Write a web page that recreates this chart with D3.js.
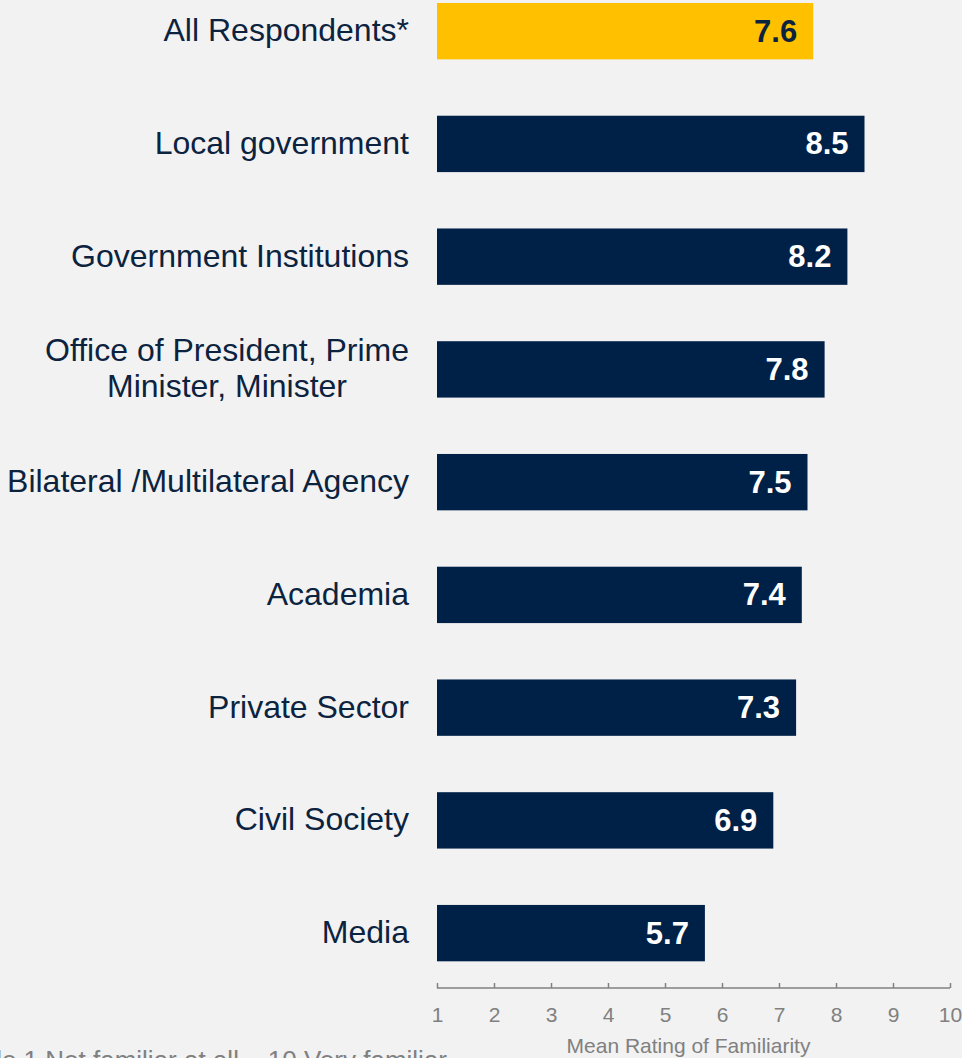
<!DOCTYPE html>
<html>
<head>
<meta charset="utf-8">
<script src="https://cdn.jsdelivr.net/npm/d3@7"></script>
<style>
  html, body { margin: 0; padding: 0; background: #f2f2f2; }
  svg { display: block; font-family: "Liberation Sans", Arial, sans-serif; }
</style>
</head>
<body>
<svg id="chart" width="962" height="1058"></svg>
<script>
// Respondent groups (top to bottom) and their mean familiarity ratings
const categories = [
  ["All Respondents*"],
  ["Local government"],
  ["Government Institutions"],
  ["Office of President, Prime", "Minister, Minister"],
  ["Bilateral /Multilateral Agency"],
  ["Academia"],
  ["Private Sector"],
  ["Civil Society"],
  ["Media"]
];
const values = [7.6, 8.5, 8.2, 7.8, 7.5, 7.4, 7.3, 6.9, 5.7];
const highlighted = [true, false, false, false, false, false, false, false, false];
const tickValues = [1, 2, 3, 4, 5, 6, 7, 8, 9, 10];
const axisTitle = "Mean Rating of Familiarity";
const scaleNote = "Scale 1 Not familiar at all \u2013 10 Very familiar";

const FONT = "'Liberation Sans', Arial, sans-serif";
const navy = "#002147";
const gold = "#ffc000";
const textNavy = "#0c2340";
const grey = "#808080";

const svg = d3.select("#chart");
const rows = categories.map((lines, i) => ({ key: i, lines, value: values[i], hi: highlighted[i] }));

const x = d3.scaleLinear().domain([1, 10]).range([437, 950]);
const y = d3.scaleBand()
  .domain(rows.map(d => d.key))
  .range([-25.2, 989.5])
  .paddingInner(0.5)
  .paddingOuter(0.25);

// Bars
svg.append("g").selectAll("rect")
  .data(rows)
  .join("rect")
  .attr("x", x(1))
  .attr("y", d => y(d.key))
  .attr("width", d => x(d.value) - x(1))
  .attr("height", y.bandwidth())
  .attr("fill", d => d.hi ? gold : navy);

// Value labels inside bar ends
svg.append("g").selectAll("text")
  .data(rows)
  .join("text")
  .attr("x", d => x(d.value) - 16)
  .attr("y", d => y(d.key) + y.bandwidth() / 2)
  .attr("dy", "0.34em")
  .attr("text-anchor", "end")
  .attr("font-family", FONT)
  .attr("font-size", 31)
  .attr("font-weight", "bold")
  .attr("fill", d => d.hi ? textNavy : "#ffffff")
  .text(d => d.value.toFixed(1));

// Category labels, right-aligned block; multi-line labels centered within the block
const labelRight = 409;
const lineH = 36;
const labels = svg.append("g").selectAll("g")
  .data(rows)
  .join("g");
labels.each(function(d) {
  const g = d3.select(this);
  const cy = y(d.key) + y.bandwidth() / 2;
  const n = d.lines.length;
  const texts = d.lines.map((line, j) => g.append("text")
    .attr("y", cy + (j - (n - 1) / 2) * lineH)
    .attr("dy", "0.31em")
    .attr("font-family", FONT)
    .attr("font-size", 32)
    .attr("fill", textNavy)
    .text(line));
  const widths = texts.map(t => t.node().getComputedTextLength());
  const maxW = d3.max(widths);
  texts.forEach(t => {
    t.attr("text-anchor", "middle").attr("x", labelRight - maxW / 2);
  });
});

// Bottom axis with upward ticks
const axisY = 988;
const axis = svg.append("g").attr("transform", `translate(0,${axisY})`);
axis.call(d3.axisBottom(x).tickValues(tickValues).tickSize(-5).tickPadding(19).tickFormat(d3.format("d")));
axis.select(".domain").remove();
axis.append("line")
  .attr("x1", x(1)).attr("x2", x(10))
  .attr("y1", 0).attr("y2", 0)
  .attr("stroke", grey).attr("stroke-width", 1.5);
axis.selectAll(".tick line").attr("stroke", grey).attr("stroke-width", 1.5);
axis.selectAll(".tick text")
  .attr("fill", grey)
  .attr("font-size", 21)
  .attr("font-family", FONT);

// Axis title
svg.append("text")
  .attr("x", (x(1) + x(10)) / 2 - 5)
  .attr("y", 1053)
  .attr("text-anchor", "middle")
  .attr("font-family", FONT)
  .attr("font-size", 21)
  .attr("fill", grey)
  .text(axisTitle);

// Scale note at the lower left
svg.append("text")
  .attr("x", 447)
  .attr("y", 1069)
  .attr("text-anchor", "end")
  .attr("font-family", FONT)
  .attr("font-size", 26)
  .attr("fill", grey)
  .text(scaleNote);
</script>
</body>
</html>
